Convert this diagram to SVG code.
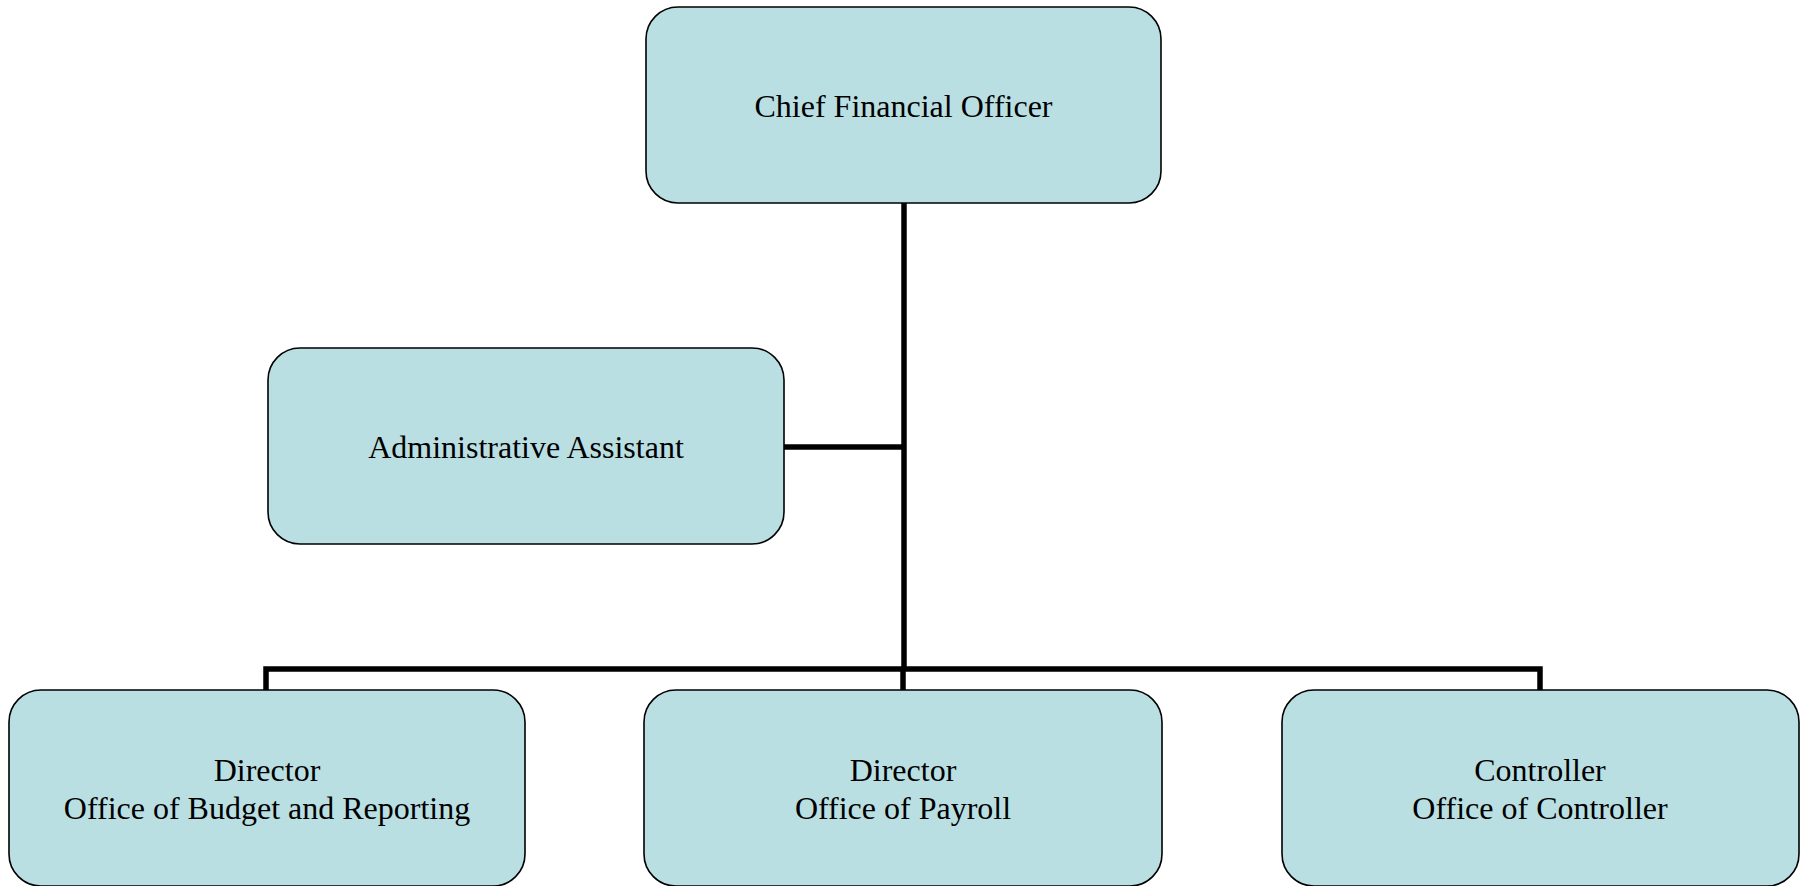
<svg xmlns="http://www.w3.org/2000/svg" width="1806" height="886" viewBox="0 0 1806 886">
<style>
.box{fill:#BADFE3;stroke:#000;stroke-width:1.6}
.lbl{font-family:"Liberation Serif","Times New Roman",serif;font-size:32px;fill:#000;text-anchor:middle}
.conn{fill:none;stroke:#000;stroke-width:5.5;stroke-linecap:butt}
</style>
<rect width="1806" height="886" fill="#fff"/>
<g id="connectors">
<path class="conn" d="M904 203 V669"/>
<path class="conn" d="M784 447 H904"/>
<path class="conn" d="M266 692 V669 H1540 V692"/>
<path class="conn" d="M903 669 V692"/>
</g>
<g id="cfo">
<rect class="box" x="646" y="7" width="515" height="196" rx="32" ry="32"/>
<text class="lbl" x="903.5" y="117">Chief Financial Officer</text>
</g>
<g id="admin">
<rect class="box" x="268" y="348" width="516" height="196" rx="32" ry="32"/>
<text class="lbl" x="526" y="458">Administrative Assistant</text>
</g>
<g id="budget">
<rect class="box" x="9" y="690" width="516" height="196" rx="32" ry="32"/>
<text class="lbl" x="267" y="781">Director</text>
<text class="lbl" x="267" y="819">Office of Budget and Reporting</text>
</g>
<g id="payroll">
<rect class="box" x="644" y="690" width="518" height="196" rx="32" ry="32"/>
<text class="lbl" x="903" y="781">Director</text>
<text class="lbl" x="903" y="819">Office of Payroll</text>
</g>
<g id="controller">
<rect class="box" x="1282" y="690" width="517" height="196" rx="32" ry="32"/>
<text class="lbl" x="1540" y="781">Controller</text>
<text class="lbl" x="1540" y="819">Office of Controller</text>
</g>
</svg>
